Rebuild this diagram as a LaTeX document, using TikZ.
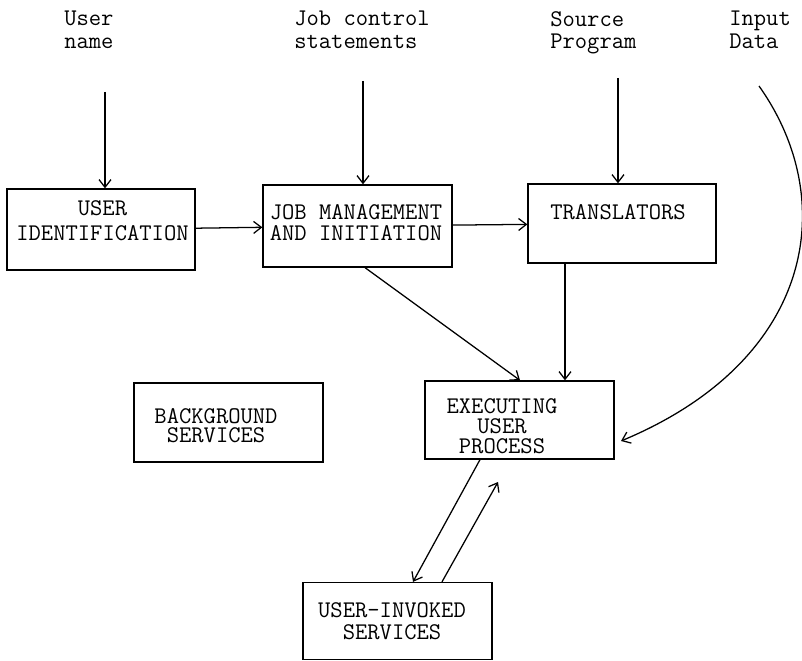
\documentclass[tikz,border=0pt]{standalone}
\usetikzlibrary{arrows.meta}
\begin{document}
\begin{tikzpicture}[x=0.025cm, y=-0.025cm]
  \tikzstyle{block}=[draw, line width=0.9pt, inner sep=0pt]
  \tikzstyle{toplabel}=[font=\ttfamily\fontsize{17}{15.8}\selectfont, align=left, anchor=north west, inner sep=0pt]
  \tikzstyle{flow}=[line width=0.9pt, -{Straight Barb[length=5.5pt,width=8.5pt]}]
  \tikzset{blocktext/.style={font=\ttfamily\fontsize{17}{#1}\selectfont, align=center, inner sep=0pt}}
  \useasboundingbox (0,0) rectangle (802,661);

  % Input labels
  \node[toplabel] (uname) at (64,11) {User\\name};
  \node[toplabel] (jcl) at (294,11) {Job control\\statements};
  \node[toplabel] (source) at (550,11) {Source\\Program};
  \node[toplabel] (indata) at (729,11) {Input\\Data};

  % Boxes
  \node[block, minimum width=4.7cm, minimum height=2.025cm] (uid) at (101,229.5) {};
  \node[block, minimum width=4.725cm, minimum height=2.05cm] (job) at (357.5,226) {};
  \node[block, minimum width=4.7cm, minimum height=1.975cm] (trans) at (622,223.5) {};
  \node[block, minimum width=4.725cm, minimum height=1.975cm] (bg) at (228.5,422.5) {};
  \node[block, minimum width=4.725cm, minimum height=1.95cm] (exec) at (519.5,420) {};
  \node[block, minimum width=4.725cm, minimum height=1.925cm] (uinv) at (397.5,621) {};

  % Box texts
  \node[blocktext=17.7pt] (uidtext) at (102.5,220.5) {USER\\IDENTIFICATION};
  \node[blocktext=15pt] (jobtext) at (356,222.5) {JOB MANAGEMENT\\AND INITIATION};
  \node[blocktext=14pt] (transtext) at (618,212) {TRANSLATORS};
  \node[blocktext=13.2pt] (bgtext) at (216,425.5) {BACKGROUND\\SERVICES};
  \node[blocktext=14.2pt] (exectext) at (502,426.5) {EXECUTING\\USER\\PROCESS};
  \node[blocktext=15.6pt] (uinvtext) at (392,621) {USER-INVOKED\\SERVICES};

  % Free ends
  \coordinate (unamein) at (105,92);
  \coordinate (jclin) at (363,81);
  \coordinate (sourcein) at (618,78);
  \coordinate (datain) at (759,86);
  \coordinate (dataend) at (621,441);
  \coordinate (retend) at (498,482);

  % Edges
  \draw[flow] (unamein) -- (unamein |- uid.north);
  \draw[flow] (jclin) -- (jclin |- job.north);
  \draw[flow] (sourcein) -- (sourcein |- trans.north);
  \draw[flow] (uid) -- (job);
  \draw[flow] (job) -- (trans);
  \draw[flow] (365,0 |- job.south) -- (520,0 |- exec.north);
  \draw[flow] (565,0 |- trans.south) -- (565,0 |- exec.north);
  \draw[flow] (datain) .. controls (840,200) and (815,360) .. (dataend);
  \draw[flow] (480,0 |- exec.south) -- (413,0 |- uinv.north);
  \draw[flow] (442,0 |- uinv.north) -- (retend);
\end{tikzpicture}
\end{document}
